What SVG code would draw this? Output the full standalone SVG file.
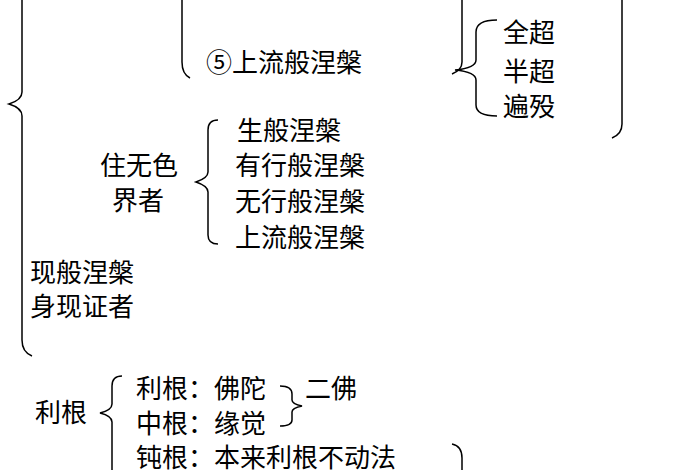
<svg xmlns="http://www.w3.org/2000/svg" width="700" height="470" viewBox="0 0 700 470">
<style>
text{font-family:"Noto Sans CJK SC","Noto Sans",sans-serif;font-size:26px;fill:#000;dominant-baseline:central}
.b{fill:none;stroke:#000;stroke-width:1.5}
</style>
<rect width="700" height="470" fill="#fff"/>
<g id="connectors">
<path class="b" d="M22,0 V92 Q22,100 9,104 Q22,108 22,116 V340 Q22,352 32,356"/>
<path class="b" d="M182,0 V62 Q182,74 190,78"/>
<path class="b" d="M462,0 V62 Q462,70 452,74"/>
<path class="b" d="M497,20 Q476,20 476,32 V60 Q476,68 455,70 Q476,72 476,80 V105 Q476,116 497,116"/>
<path class="b" d="M622,0 V124 Q622,134 612,138"/>
<path class="b" d="M218,120 Q208,120 208,130 V172 Q208,178 196,182 Q208,186 208,192 V235 Q208,244 218,244"/>
<path class="b" d="M122,376 Q112,376 112,386 V404 Q112,410 100,413 Q112,416 112,422 V470"/>
<path class="b" d="M280,386 Q292,386 292,394 V400 Q292,404 302,406 Q292,408 292,412 V420 Q292,426 280,426"/>
<path class="b" d="M452,444 Q462,446 462,458 V470"/>
</g>
<g id="n1"><text x="206" y="60">⑤上流般涅槃</text></g>
<g id="n2"><text x="503" y="30">全超</text><text x="503" y="69">半超</text><text x="503" y="104">遍殁</text></g>
<g id="n3"><text x="100" y="163">住无色</text><text x="112" y="198">界者</text></g>
<g id="n4"><text x="237" y="128">生般涅槃</text><text x="235" y="163">有行般涅槃</text><text x="235" y="199">无行般涅槃</text><text x="235" y="235">上流般涅槃</text></g>
<g id="n5"><text x="30" y="270">现般涅槃</text><text x="30" y="304">身现证者</text></g>
<g id="n6"><text x="35" y="410">利根</text></g>
<g id="n7"><text x="136" y="386">利根：佛陀</text><text x="136" y="421">中根：缘觉</text><text x="136" y="455">钝根：本来利根不动法</text></g>
<g id="n8"><text x="305" y="386">二佛</text></g>
</svg>
